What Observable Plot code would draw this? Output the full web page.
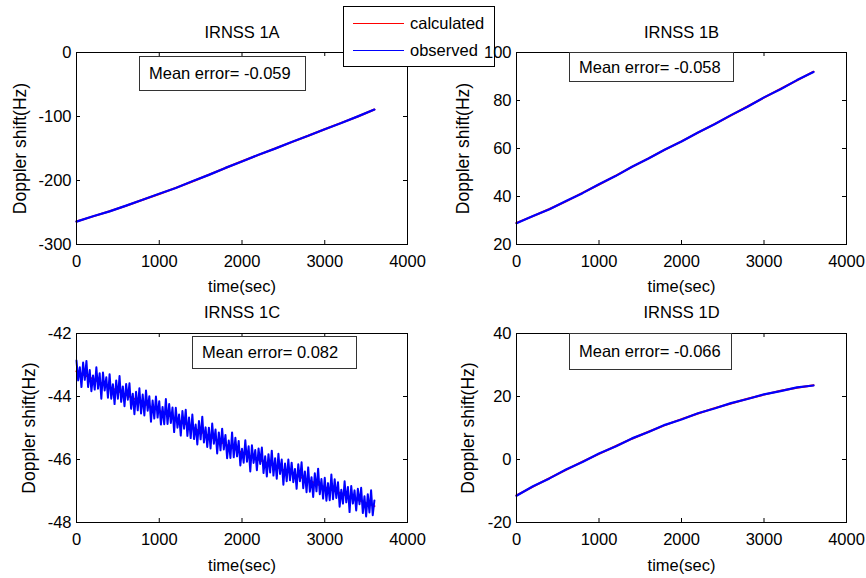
<!DOCTYPE html>
<html>
<head>
<meta charset="utf-8">
<script src="https://cdn.jsdelivr.net/npm/d3@7"></script>
<script src="https://cdn.jsdelivr.net/npm/@observablehq/plot@0.6"></script>
<style>
  html, body { margin: 0; padding: 0; background: #fff; }
  #chart { position: relative; width: 866px; height: 578px; overflow: hidden; font-family: "Liberation Sans", Arial, sans-serif; }
  #chart svg { position: absolute; background: transparent; }
  .box { position: absolute; border: 1px solid #333; background: #fff; font-size: 16.5px; color: #000; display: flex; align-items: center; box-sizing: border-box; padding-left: 9px; white-space: nowrap; }
  .legend { position: absolute; left: 343px; top: 6px; width: 152px; height: 61px; border: 1px solid #000; background: #fff; box-sizing: border-box; font-size: 16.5px; }
  .legend .row { position: absolute; left: 0; display: flex; align-items: center; height: 20px; }
  .legend .sw { display: inline-block; width: 51px; height: 1px; margin-left: 9px; margin-right: 6px; }
</style>
</head>
<body>
<div id="chart"></div>
<script>
// ---------- data ----------
const titles = ["IRNSS 1A", "IRNSS 1B", "IRNSS 1C", "IRNSS 1D"];
const meanErrors = ["-0.059", "-0.058", "0.082", "-0.066"];
const seriesNames = ["calculated", "observed"];
const xLabel = "time(sec)";
const yLabel = "Doppler shift(Hz)";
const xTicks = [0, 1000, 2000, 3000, 4000];
const yTicksA = [-300, -200, -100, 0];
const yTicksB = [20, 40, 60, 80, 100];
const yTicksC = [-48, -46, -44, -42];
const yTicksD = [-20, 0, 20, 40];

// time stamps (sec) for the smooth curves
const time200 = [0,200,400,600,800,1000,1200,1400,1600,1800,2000,2200,2400,2600,2800,3000,3200,3400,3600];

const calcA = [-264,-256,-248,-239.5,-230,-221,-211.5,-201.5,-191,-180.5,-170,-160,-150,-140,-130,-120,-110,-100,-89];
const obsA  = [-264.3,-255.8,-248.2,-239.3,-230.2,-220.8,-211.7,-201.3,-191.2,-180.3,-170.2,-159.8,-150.2,-139.8,-130.2,-119.8,-110.2,-99.8,-89.2];

const calcB = [29,31.8,34.8,38.0,41.5,45.0,48.6,52.3,55.9,59.5,63.0,66.6,70.2,73.8,77.5,81.2,84.8,88.4,92.0];
const obsB  = [28.9,31.9,34.7,38.1,41.4,45.1,48.5,52.4,55.8,59.6,62.9,66.7,70.1,73.9,77.4,81.3,84.7,88.5,91.9];

const calcC = [-43.2,-43.45,-43.7,-43.95,-44.2,-44.45,-44.72,-44.98,-45.25,-45.52,-45.78,-46.0,-46.22,-46.44,-46.66,-46.88,-47.08,-47.28,-47.48];

const calcD = [-11.4,-8.6,-5.9,-3.3,-0.7,1.8,4.2,6.6,8.8,10.9,12.8,14.6,16.3,17.8,19.3,20.6,21.8,22.8,23.6];
const obsD  = [-11.5,-8.5,-6.0,-3.2,-0.8,1.9,4.1,6.7,8.7,11.0,12.7,14.7,16.2,17.9,19.2,20.7,21.7,22.9,23.5];

// observed IRNSS 1C, one sample every 20 s (0 .. 3600 s)
const obsCStep = 20;
const obsC = [
  -42.86,-43.49,-43.07,-43.70,-42.92,-43.47,-42.87,-43.70,-43.16,-43.83,
  -43.33,-43.78,-43.07,-43.75,-43.26,-44.07,-43.24,-43.81,-43.39,-44.04,
  -43.29,-44.07,-43.61,-44.24,-43.49,-44.07,-43.35,-44.17,-43.68,-44.31,
  -43.60,-44.10,-43.58,-44.39,-43.91,-44.56,-43.85,-44.44,-43.74,-44.54,
  -43.94,-44.60,-43.81,-44.45,-43.99,-44.80,-44.13,-44.70,-44.00,-44.67,
  -44.15,-44.89,-44.33,-44.88,-44.08,-44.87,-44.24,-44.84,-44.35,-45.13,
  -44.36,-44.99,-44.57,-45.24,-44.46,-45.02,-44.42,-45.25,-44.67,-45.32,
  -44.57,-45.35,-44.89,-45.52,-44.78,-45.36,-44.64,-45.46,-44.98,-45.60,
  -44.99,-45.65,-44.86,-45.50,-45.05,-45.81,-45.14,-45.71,-45.02,-45.68,
  -45.22,-45.96,-45.40,-45.95,-45.14,-45.93,-45.31,-45.90,-45.41,-46.19,
  -45.66,-46.10,-45.39,-46.07,-45.58,-46.38,-45.55,-46.11,-45.70,-46.34,
  -45.65,-46.14,-45.62,-46.43,-45.90,-46.54,-45.83,-46.41,-45.72,-46.51,
  -45.96,-46.61,-45.82,-46.46,-46.00,-46.80,-46.13,-46.69,-46.00,-46.66,
  -46.10,-46.72,-46.30,-46.93,-46.15,-46.69,-46.09,-46.91,-46.38,-47.04,
  -46.25,-47.02,-46.56,-47.19,-46.44,-47.01,-46.29,-47.10,-46.62,-47.24,
  -46.58,-47.31,-46.75,-47.29,-46.48,-47.26,-46.63,-47.22,-46.72,-47.50,
  -46.96,-47.40,-46.69,-47.36,-46.87,-47.67,-46.84,-47.40,-46.98,-47.62,
  -46.93,-47.42,-46.90,-47.70,-47.17,-47.81,-47.10,-47.68,-46.98,-47.77,
  -47.30
];

// ---------- build ----------
const red = "#ff0000", blue = "#0000ff";
const pts = (ts, vs) => vs.map((v, i) => ({t: ts[i], v}));
const timeC = obsC.map((_, i) => i * obsCStep);

const panels = [
  {title: titles[0], err: meanErrors[0], yDomain: [-300, 0], yTicks: yTicksA, calc: pts(time200, calcA), obs: pts(time200, obsA), obsW: 2.2,
   left: 0, top: 0, m: {l: 76, r: 26, t: 52, b: 45}, yLabDx: -56, titleDy: -20, xLabDy: 42,
   box: {x: 139, y: 56, w: 167, h: 35}},
  {title: titles[1], err: meanErrors[1], yDomain: [20, 100], yTicks: yTicksB, calc: pts(time200, calcB), obs: pts(time200, obsB), obsW: 2.2,
   left: 433, top: 0, m: {l: 83, r: 20, t: 52, b: 45}, yLabDx: -53, titleDy: -20, xLabDy: 42,
   box: {x: 569, y: 52, w: 165, h: 30}},
  {title: titles[2], err: meanErrors[2], yDomain: [-48, -42], yTicks: yTicksC, calc: pts(time200, calcC), obs: pts(timeC, obsC), obsW: 2,
   left: 0, top: 289, m: {l: 76, r: 26, t: 44, b: 56}, yLabDx: -47, titleDy: -21, xLabDy: 43,
   box: {x: 192, y: 336, w: 165, h: 33}},
  {title: titles[3], err: meanErrors[3], yDomain: [-20, 40], yTicks: yTicksD, calc: pts(time200, calcD), obs: pts(time200, obsD), obsW: 2.2,
   left: 433, top: 289, m: {l: 83, r: 20, t: 44, b: 56}, yLabDx: -48, titleDy: -21, xLabDy: 43,
   box: {x: 569, y: 333, w: 163, h: 37}}
];

const chart = document.getElementById("chart");
const W = 433, H = 289, TICK = 4;

function makePanel(p) {
  const fw = W - p.m.l - p.m.r, fh = H - p.m.t - p.m.b;
  const svg = Plot.plot({
    width: W, height: H,
    marginLeft: p.m.l, marginRight: p.m.r, marginTop: p.m.t, marginBottom: p.m.b,
    style: {fontFamily: "'Liberation Sans', Arial, sans-serif", fontSize: "16.5px", color: "#000", background: "transparent", overflow: "visible"},
    x: {domain: [0, 4000], label: null},
    y: {domain: p.yDomain, label: null},
    marks: [
      Plot.line(p.calc, {x: "t", y: "v", stroke: red, strokeWidth: 2}),
      Plot.line(p.obs, {x: "t", y: "v", stroke: blue, strokeWidth: p.obsW}),
      Plot.frame({stroke: "#000", strokeWidth: 1}),
      // inward ticks on all four sides (MATLAB style)
      Plot.tickX(xTicks, {x: d => d, insetTop: fh - TICK, stroke: "#000"}),
      Plot.tickX(xTicks, {x: d => d, insetBottom: fh - TICK, stroke: "#000"}),
      Plot.tickY(p.yTicks, {y: d => d, insetRight: fw - TICK, stroke: "#000"}),
      Plot.tickY(p.yTicks, {y: d => d, insetLeft: fw - TICK, stroke: "#000"}),
      Plot.axisX({anchor: "bottom", ticks: xTicks, tickSize: 0, tickPadding: 11, label: null, tickFormat: d => String(d)}),
      Plot.axisY({anchor: "left", ticks: p.yTicks, tickSize: 0, tickPadding: 5, label: null, tickFormat: d => String(d)}),
      Plot.text([p.title], {frameAnchor: "top", dy: p.titleDy, lineAnchor: "middle", textAnchor: "middle", fill: "#000"}),
      Plot.text([xLabel], {frameAnchor: "bottom", dy: p.xLabDy, lineAnchor: "middle", textAnchor: "middle", fill: "#000"}),
      Plot.text([yLabel], {frameAnchor: "left", dx: p.yLabDx, rotate: -90, lineAnchor: "middle", textAnchor: "middle", fill: "#000", fontSize: 17.5})
    ]
  });
  svg.style.left = p.left + "px";
  svg.style.top = p.top + "px";
  return svg;
}

function makeBox(p) {
  const d = document.createElement("div");
  d.className = "box";
  d.style.left = p.box.x + "px";
  d.style.top = p.box.y + "px";
  d.style.width = p.box.w + "px";
  d.style.height = p.box.h + "px";
  d.textContent = "Mean error= " + p.err;
  return d;
}

function makeLegend() {
  const lg = document.createElement("div");
  lg.className = "legend";
  const colors = [red, blue];
  const tops = [6, 33];
  seriesNames.forEach((n, i) => {
    const row = document.createElement("div");
    row.className = "row";
    row.style.top = tops[i] + "px";
    const sw = document.createElement("span");
    sw.className = "sw";
    sw.style.background = colors[i];
    const tx = document.createElement("span");
    tx.textContent = n;
    row.appendChild(sw); row.appendChild(tx);
    lg.appendChild(row);
  });
  return lg;
}

// draw order: 1A, legend, 1B (on top of legend), 1C, 1D, annotation boxes
chart.appendChild(makePanel(panels[0]));
chart.appendChild(makeLegend());
chart.appendChild(makePanel(panels[1]));
chart.appendChild(makePanel(panels[2]));
chart.appendChild(makePanel(panels[3]));
panels.forEach(p => chart.appendChild(makeBox(p)));
</script>
</body>
</html>
